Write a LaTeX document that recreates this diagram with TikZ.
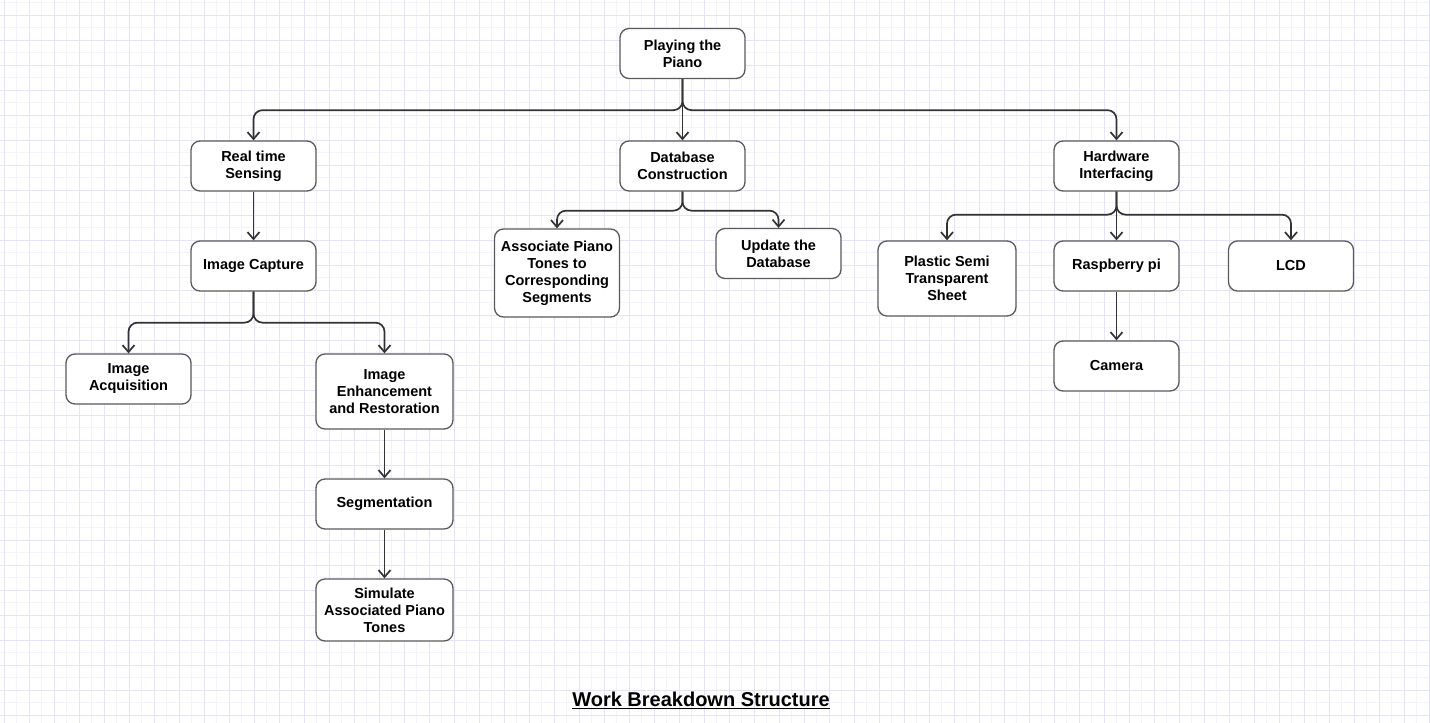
\documentclass[tikz,border=0pt]{standalone}
\usepackage{fontspec}
\setmainfont{Liberation Sans}
\usepackage{tikz}
\usetikzlibrary{arrows.meta,positioning}
\usepackage{xcolor}
\definecolor{gridmajor}{RGB}{229,227,251}
\definecolor{gridminor}{RGB}{244,243,252}
\definecolor{boxline}{RGB}{90,90,90}
\definecolor{wire}{RGB}{51,51,51}
\tikzset{
  wbs/.style={draw=boxline, line width=1.3pt, fill=white, rounded corners=9pt, align=center,
    minimum width=125pt, minimum height=50pt, inner sep=2pt, font=\bfseries\fontsize{14.5}{17}\selectfont},
  link/.style={draw=wire, line width=1.7pt, rounded corners=9pt, -{Straight Barb[length=7pt,width=12pt]}}
}

\begin{document}
\begin{tikzpicture}[x=1pt, y=-1pt]
\useasboundingbox (0,0) rectangle (1430,723);
% grid
\foreach \gx in {16.5,41.5,...,1430} \draw[gridminor, line width=1pt] (\gx,0) -- (\gx,723);
\foreach \gy in {2.5,27.5,...,723} \draw[gridminor, line width=1pt] (0,\gy) -- (1430,\gy);
\foreach \gx in {4,29,...,1430} \draw[gridmajor, line width=1pt] (\gx,0) -- (\gx,723);
\foreach \gy in {15,40,...,723} \draw[gridmajor, line width=1pt] (0,\gy) -- (1430,\gy);

% boxes
\node[wbs] (piano) at (682.5,53.5) {Playing the\\Piano};
\node[wbs] (sensing) at (253.5,166) {Real time\\Sensing};
\node[wbs] (dbase) at (682.5,166) {Database\\Construction};
\node[wbs] (hware) at (1116.5,166) {Hardware\\Interfacing};
\node[wbs] (capture) at (253.5,266) {Image Capture};
\node[wbs] (acquire) at (128.5,379) {Image\\Acquisition};
\node[wbs, minimum width=137pt, minimum height=75pt] (enhance) at (384.5,391.5) {Image\\Enhancement\\and Restoration};
\node[wbs, minimum width=137pt] (segment) at (384.5,504) {Segmentation};
\node[wbs, minimum width=137pt, minimum height=62pt] (simulate) at (384.5,610) {Simulate\\Associated Piano\\Tones};
\node[wbs, minimum height=88pt] (assoc) at (557,273) {Associate Piano\\Tones to\\Corresponding\\Segments};
\node[wbs] (update) at (778.5,253.5) {Update the\\Database};
\node[wbs, minimum width=138pt, minimum height=75pt] (sheet) at (947,278.5) {Plastic Semi\\Transparent\\Sheet};
\node[wbs] (rpi) at (1116.5,266) {Raspberry pi};
\node[wbs] (lcd) at (1291,266) {LCD};
\node[wbs] (camera) at (1116.5,366) {Camera};

% links
\draw[link] (piano.south) -- ++(0,31) -| (sensing.north);
\draw[link] (piano) -- (dbase);
\draw[link] (piano.south) -- ++(0,31) -| (hware.north);
\draw[link] (sensing) -- (capture);
\draw[link] (capture.south) -- ++(0,31) -| (acquire.north);
\draw[link] (capture.south) -- ++(0,31) -| (enhance.north);
\draw[link] (enhance) -- (segment);
\draw[link] (segment) -- (simulate);
\draw[link] (dbase.south) -- ++(0,19) -| (assoc.north);
\draw[link] (dbase.south) -- ++(0,19) -| (update.north);
\draw[link] (hware.south) -- ++(0,23) -| (sheet.north);
\draw[link] (hware) -- (rpi);
\draw[link] (hware.south) -- ++(0,23) -| (lcd.north);
\draw[link] (rpi) -- (camera);

\node[font=\bfseries\fontsize{20}{24}\selectfont] (title) at (701,700) {\underline{Work Breakdown Structure}};
\end{tikzpicture}
\end{document}
